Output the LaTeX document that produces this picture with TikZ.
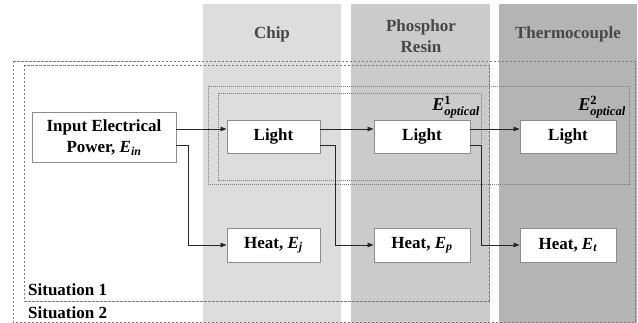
\documentclass[tikz,border=0pt]{standalone}
\usepackage{amsmath}
\usepackage{fontspec}
\setmainfont{Liberation Serif}
\usetikzlibrary{arrows.meta}
\definecolor{chipgray}{HTML}{DDDDDD}
\definecolor{resingray}{HTML}{CBCBCB}
\definecolor{thermogray}{HTML}{B4B4B4}
\definecolor{titlegray}{HTML}{474747}
\definecolor{boxgray}{HTML}{8C8C8C}
\definecolor{linegray}{HTML}{7A7A7A}

\begin{document}
\begin{tikzpicture}[x=1pt,y=-1pt,
  box/.style={draw=boxgray,line width=0.9pt,fill=white,minimum width=94pt,minimum height=33pt,inner sep=2pt,font=\fontsize{17}{21}\selectfont\bfseries},
  arr/.style={draw=black!85,line width=0.8pt,-{Triangle[length=6pt,width=4.5pt]}},
  sitbox/.style={draw=linegray,line width=0.6pt,dash pattern=on 2.5pt off 1.5pt},
  optbox/.style={draw=linegray,line width=0.6pt,dash pattern=on 1pt off 1pt},
  title/.style={text=titlegray,font=\fontsize{17}{21}\selectfont\bfseries,align=center},
  sit/.style={anchor=west,inner sep=0pt,font=\fontsize{17}{20}\selectfont\bfseries},
  optlabel/.style={anchor=east,inner sep=0pt,font=\fontsize{18}{20}\selectfont\bfseries\itshape}]
  \useasboundingbox (0,0) rectangle (638,323);
  \fill[white] (0,0) rectangle (638,323);
  \fill[chipgray] (203,4) rectangle (341,323);
  \fill[resingray] (351,4) rectangle (490,323);
  \fill[thermogray] (499,4) rectangle (637,323);
  \node[title] (chip) at (272,34) {Chip};
  \node[title] (resin) at (421,36) {Phosphor\\Resin};
  \node[title] (thermo) at (568,34) {Thermocouple};
  \draw[sitbox] (13,61) rectangle (635,322.5);
  \draw[sitbox] (24,65) rectangle (489,301);
  \draw[optbox] (208,86) rectangle (629,184);
  \draw[optbox] (218,93) rectangle (481,180);
  \node[optlabel] (eopt1) at (480,107) {E$^{\textbf{\upshape 1}}_{\textbf{\textit{optical}}}$};
  \node[optlabel] (eopt2) at (626,107) {E$^{\textbf{\upshape 2}}_{\textbf{\textit{optical}}}$};
  \node[box,minimum width=144pt,minimum height=50pt,align=center] (in) at (104,137.5) {Input Electrical\\Power, \textit{E}\textsubscript{\textit{in}}};
  \node[box,minimum width=93pt] (l1) at (273.5,136.5) {Light};
  \node[box,minimum width=96pt] (l2) at (422,136.5) {Light};
  \node[box,minimum width=96pt] (l3) at (568,136.5) {Light};
  \node[box,minimum width=93pt,minimum height=34pt] (hj) at (273.5,245) {Heat, \textit{E}\textsubscript{\textit{j}}};
  \node[box,minimum width=96pt,minimum height=34pt] (hp) at (422,245) {Heat, \textit{E}\textsubscript{\textit{p}}};
  \node[box,minimum width=96pt,minimum height=34pt] (ht) at (568,245) {Heat, \textit{E}\textsubscript{\textit{t}}};
  \draw[arr] ([yshift=8.5pt]in.east) -- ([yshift=7.5pt]l1.west);
  \draw[arr] ([yshift=-7.5pt]in.east) -- ++(12,0) |- (hj.west);
  \draw[arr] ([yshift=7.5pt]l1.east) -- ([yshift=7.5pt]l2.west);
  \draw[arr] ([yshift=-8.5pt]l1.east) -- ++(15,0) |- (hp.west);
  \draw[arr] ([yshift=7.5pt]l2.east) -- ([yshift=7.5pt]l3.west);
  \draw[arr] ([yshift=-8.5pt]l2.east) -- ++(11,0) |- (ht.west);
  \node[sit] (sit1) at (28,290) {Situation 1};
  \node[sit] (sit2) at (28,313) {Situation 2};
\end{tikzpicture}
\end{document}
